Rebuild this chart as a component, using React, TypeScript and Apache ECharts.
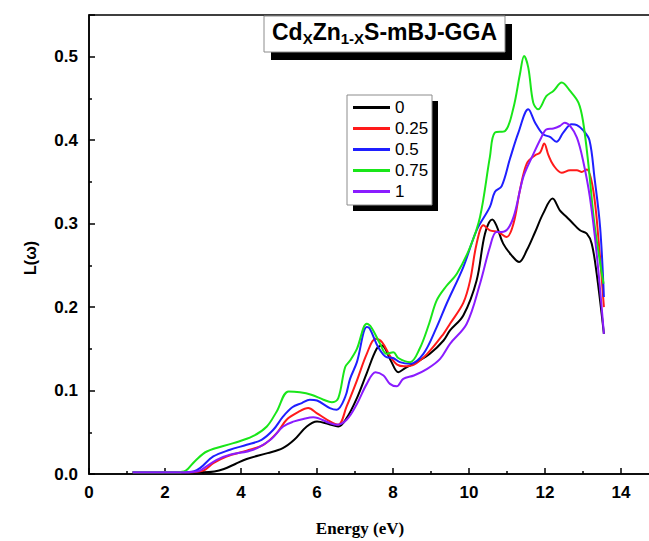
import React, { useEffect, useRef } from 'react';
import * as echarts from 'echarts';

const seriesNames = ['0', '0.25', '0.5', '0.75', '1'];
const seriesColors = ['#000000', '#ff1a1a', '#1f1fff', '#19e619', '#8a1cff'];

// [energy (eV), L(ω)]
const curve0 = [
  [1.15, 0.002], [2.0, 0.002], [3.0, 0.002], [3.3, 0.003], [3.55, 0.006], [3.85, 0.012], [4.15, 0.018],
  [4.7, 0.025], [5.1, 0.031], [5.4, 0.041], [5.73, 0.057], [6.0, 0.063], [6.3, 0.06], [6.56, 0.057],
  [6.78, 0.067], [7.05, 0.091], [7.31, 0.121], [7.57, 0.15], [7.71, 0.154], [7.94, 0.136], [8.14, 0.122],
  [8.32, 0.127], [8.62, 0.134], [8.97, 0.144], [9.33, 0.16], [9.5, 0.172], [9.85, 0.19], [10.2, 0.232],
  [10.42, 0.288], [10.61, 0.305], [10.72, 0.298], [10.9, 0.276], [11.12, 0.262], [11.32, 0.254],
  [11.52, 0.268], [11.74, 0.29], [11.95, 0.312], [12.2, 0.33], [12.39, 0.316], [12.57, 0.308],
  [12.7, 0.302], [12.92, 0.292], [13.1, 0.288], [13.23, 0.276], [13.36, 0.24], [13.55, 0.168],
];
const curve025 = [
  [1.15, 0.002], [2.5, 0.002], [2.9, 0.003], [3.05, 0.005], [3.27, 0.013], [3.62, 0.021], [4.15, 0.028],
  [4.59, 0.035], [4.94, 0.049], [5.2, 0.065], [5.5, 0.074], [5.77, 0.079], [5.99, 0.073], [6.34, 0.063],
  [6.56, 0.059], [6.78, 0.081], [7.05, 0.112], [7.31, 0.144], [7.54, 0.162], [7.71, 0.158], [7.94, 0.14],
  [8.11, 0.131], [8.29, 0.129], [8.55, 0.131], [8.9, 0.144], [9.33, 0.168], [9.5, 0.18], [9.85, 0.205],
  [10.03, 0.232], [10.2, 0.276], [10.38, 0.298], [10.55, 0.292], [10.77, 0.29], [10.99, 0.284],
  [11.17, 0.3], [11.34, 0.34], [11.52, 0.372], [11.74, 0.382], [11.87, 0.385], [11.98, 0.396],
  [12.09, 0.382], [12.22, 0.37], [12.44, 0.361], [12.66, 0.364], [12.84, 0.364], [12.97, 0.362],
  [13.1, 0.365], [13.27, 0.34], [13.41, 0.28], [13.55, 0.2],
];
const curve05 = [
  [1.15, 0.002], [2.5, 0.002], [2.75, 0.003], [2.92, 0.007], [3.27, 0.021], [3.71, 0.029], [4.15, 0.035],
  [4.54, 0.041], [4.85, 0.053], [5.11, 0.069], [5.35, 0.08], [5.6, 0.085], [5.81, 0.089], [6.0, 0.088],
  [6.34, 0.079], [6.52, 0.077], [6.74, 0.092], [6.87, 0.114], [7.05, 0.134], [7.31, 0.176], [7.39, 0.174],
  [7.61, 0.152], [7.83, 0.14], [8.0, 0.139], [8.18, 0.134], [8.45, 0.132], [8.8, 0.144], [9.15, 0.176],
  [9.41, 0.204], [9.85, 0.248], [10.2, 0.292], [10.55, 0.32], [10.68, 0.338], [10.86, 0.345],
  [11.08, 0.378], [11.3, 0.409], [11.56, 0.437], [11.74, 0.421], [11.95, 0.407], [12.13, 0.404],
  [12.3, 0.398], [12.48, 0.409], [12.7, 0.419], [12.84, 0.418], [13.0, 0.412], [13.17, 0.4],
  [13.3, 0.356], [13.45, 0.296], [13.55, 0.212],
];
const curve075 = [
  [1.15, 0.002], [2.3, 0.002], [2.5, 0.003], [2.6, 0.006], [2.8, 0.016], [3.1, 0.027], [3.8, 0.037],
  [4.3, 0.045], [4.68, 0.057], [4.94, 0.075], [5.25, 0.099], [5.55, 0.098], [5.85, 0.095], [6.17, 0.089],
  [6.39, 0.086], [6.56, 0.091], [6.74, 0.128], [6.87, 0.136], [7.05, 0.15], [7.31, 0.18], [7.44, 0.175],
  [7.66, 0.156], [7.83, 0.144], [8.01, 0.146], [8.14, 0.139], [8.45, 0.134], [8.7, 0.15], [8.95, 0.18],
  [9.15, 0.208], [9.4, 0.225], [9.68, 0.24], [10.03, 0.272], [10.29, 0.308], [10.55, 0.38], [10.68, 0.409],
  [10.95, 0.411], [11.17, 0.439], [11.34, 0.479], [11.45, 0.501], [11.56, 0.487], [11.69, 0.445],
  [11.82, 0.437], [12.04, 0.453], [12.22, 0.459], [12.44, 0.469], [12.66, 0.459], [12.88, 0.445],
  [13.0, 0.423], [13.14, 0.372], [13.3, 0.3], [13.54, 0.228],
];
const curve1 = [
  [1.15, 0.002], [2.5, 0.002], [2.8, 0.003], [2.92, 0.004], [3.36, 0.017], [3.71, 0.023], [4.32, 0.029],
  [4.8, 0.042], [5.11, 0.057], [5.4, 0.063], [5.64, 0.066], [5.9, 0.068], [6.34, 0.061], [6.52, 0.059],
  [6.78, 0.065], [7.05, 0.084], [7.31, 0.108], [7.54, 0.122], [7.75, 0.118], [7.92, 0.108], [8.1, 0.105],
  [8.27, 0.114], [8.55, 0.118], [8.9, 0.126], [9.24, 0.138], [9.5, 0.156], [9.94, 0.18], [10.29, 0.228],
  [10.55, 0.272], [10.72, 0.29], [10.86, 0.29], [11.04, 0.295], [11.2, 0.312], [11.43, 0.356],
  [11.69, 0.383], [11.9, 0.403], [12.04, 0.413], [12.22, 0.414], [12.39, 0.417], [12.52, 0.421],
  [12.66, 0.417], [12.84, 0.403], [13.0, 0.376], [13.18, 0.332], [13.36, 0.264], [13.55, 0.168],
];
const curves = [curve0, curve025, curve05, curve075, curve1];

const FONT = '"Liberation Sans", Arial, Helvetica, sans-serif';

export default function App() {
  const ref = useRef<HTMLDivElement>(null);
  useEffect(() => {
    const chart = echarts.init(ref.current!, null, { renderer: 'svg' });
    chart.setOption({
      animation: false,
      backgroundColor: '#ffffff',
      grid: {
        left: 89, top: 15, width: 570, height: 459,
        show: true, borderColor: '#000', borderWidth: 1.5, backgroundColor: 'transparent',
      },
      xAxis: {
        type: 'value', min: 0, max: 15, interval: 2,
        axisLine: { show: true, lineStyle: { color: '#000', width: 1.5 } },
        axisTick: { show: true, inside: true, length: 6, lineStyle: { color: '#000', width: 1.5 } },
        minorTick: { show: true, splitNumber: 2, length: 3, lineStyle: { color: '#000', width: 1.5 } },
        splitLine: { show: false },
        axisLabel: {
          showMaxLabel: false, margin: 10, color: '#000', fontFamily: FONT, fontWeight: 'bold', fontSize: 17,
        },
      },
      yAxis: {
        type: 'value', min: 0, max: 0.55, interval: 0.1,
        axisLine: { show: true, lineStyle: { color: '#000', width: 1.5 } },
        axisTick: { show: true, inside: true, length: 6, lineStyle: { color: '#000', width: 1.5 } },
        minorTick: { show: true, splitNumber: 2, length: 3, lineStyle: { color: '#000', width: 1.5 } },
        splitLine: { show: false },
        axisLabel: {
          showMaxLabel: false, margin: 11, color: '#000', fontFamily: FONT, fontWeight: 'bold', fontSize: 17,
          formatter: (v: number) => v.toFixed(1),
        },
      },
      legend: {
        orient: 'vertical', left: 353, top: 99, padding: 0, itemGap: 4,
        itemWidth: 37, itemHeight: 3, icon: 'rect', selectedMode: false, z: 20,
        textStyle: { color: '#000', fontFamily: FONT, fontSize: 17, lineHeight: 17 },
        data: seriesNames,
      },
      series: curves.map((c, i) => ({
        name: seriesNames[i],
        type: 'line',
        data: c,
        smooth: 0.35,
        showSymbol: false,
        symbol: 'none',
        lineStyle: { color: seriesColors[i], width: 2 },
        itemStyle: { color: seriesColors[i] },
        z: 2 + i,
      })),
      graphic: [
        { type: 'rect', shape: { x: 271, y: 24, width: 241, height: 36 }, style: { fill: '#000' }, z: 10 },
        { type: 'rect', shape: { x: 264, y: 16, width: 241, height: 36 }, style: { fill: '#fff', stroke: '#8c8c8c', lineWidth: 1 }, z: 11 },
        {
          type: 'text', x: 272, y: 17, z: 12,
          style: {
            text: '{m|Cd}{s|X}{m|Zn}{s|1-X}{m|S-mBJ-GGA}',
            rich: {
              m: { fontFamily: FONT, fontWeight: 'bold', fontSize: 23, lineHeight: 29, fill: '#000' },
              s: { fontFamily: FONT, fontWeight: 'bold', fontSize: 15, lineHeight: 15, padding: [14, 0, 0, 0], verticalAlign: 'bottom', fill: '#000' },
            },
          },
        },
        { type: 'rect', shape: { x: 353, y: 101, width: 85, height: 110 }, style: { fill: '#000' }, z: 10 },
        { type: 'rect', shape: { x: 347, y: 95, width: 85, height: 110 }, style: { fill: '#fff', stroke: '#8c8c8c', lineWidth: 1 }, z: 11 },
        {
          type: 'text', x: 360, y: 528, z: 12,
          style: { text: 'Energy (eV)', fontFamily: '"Liberation Serif", "Times New Roman", serif', fontWeight: 'bold', fontSize: 17, fill: '#000', align: 'center', verticalAlign: 'middle' },
        },
        {
          type: 'text', x: 30, y: 258, rotation: Math.PI / 2, z: 12,
          style: { text: 'L(ω)', fontFamily: FONT, fontWeight: 'bold', fontSize: 16, fill: '#000', align: 'center', verticalAlign: 'middle' },
        },
      ],
    });
    return () => chart.dispose();
  }, []);
  return (
    <div style={{ position: 'absolute', left: 0, top: 0, width: 649, height: 541, overflow: 'hidden' }}>
      <div ref={ref} style={{ width: 700, height: 541 }} />
    </div>
  );
}
